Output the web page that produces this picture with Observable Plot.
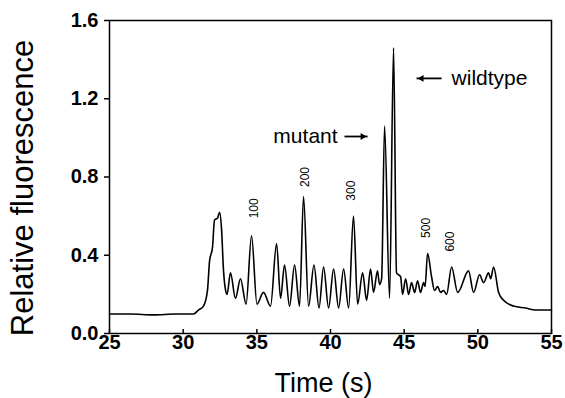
<!DOCTYPE html>
<html><head><meta charset="utf-8">
<script src="https://cdn.jsdelivr.net/npm/d3@7"></script>
<script src="https://cdn.jsdelivr.net/npm/@observablehq/plot@0.6"></script>
<style>body{margin:0;background:#fff} svg{display:block}</style>
</head><body><div id="chart"></div>
<script>
// Electropherogram trace (time in s, relative fluorescence)
const time = [25, 26.43, 28, 29.5, 30.7, 31.04, 31.38, 31.65, 31.79, 31.99, 32.13, 32.33, 32.47, 32.6, 32.74, 32.88, 32.98,
  33.21, 33.55, 33.89, 34.27, 34.64, 35.01, 35.45, 35.93, 36.34, 36.61, 36.88, 37.22, 37.56, 37.9, 38.17, 38.51,
  38.88, 39.22, 39.53, 39.87, 40.21, 40.55, 40.89, 41.23, 41.56, 41.84, 42.18, 42.45, 42.72, 42.92, 43.19, 43.33,
  43.47, 43.67, 44.01, 44.28, 44.48, 44.76, 44.89, 45.1, 45.3, 45.5, 45.71, 45.91, 46.11, 46.32, 46.42, 46.59,
  46.86, 47.06, 47.27, 47.47, 47.67, 47.88, 48.22, 48.63, 49.37, 49.71, 50.12, 50.39, 50.73, 50.87, 51.07, 51.41,
  51.75, 52.43, 53.24, 53.92, 55];
const fluorescence = [0.10, 0.10, 0.095, 0.10, 0.10, 0.12, 0.14, 0.22, 0.37, 0.44, 0.58, 0.59, 0.62, 0.54, 0.32, 0.22, 0.20,
  0.31, 0.18, 0.28, 0.15, 0.50, 0.15, 0.21, 0.14, 0.46, 0.18, 0.35, 0.14, 0.35, 0.14, 0.70, 0.14,
  0.35, 0.13, 0.34, 0.13, 0.33, 0.13, 0.33, 0.13, 0.60, 0.15, 0.31, 0.17, 0.33, 0.21, 0.32, 0.25,
  0.28, 1.06, 0.18, 1.46, 0.31, 0.29, 0.20, 0.28, 0.20, 0.26, 0.21, 0.27, 0.21, 0.26, 0.24, 0.41,
  0.29, 0.22, 0.24, 0.21, 0.22, 0.20, 0.34, 0.21, 0.32, 0.21, 0.30, 0.26, 0.31, 0.28, 0.34, 0.21,
  0.17, 0.14, 0.13, 0.12, 0.12];

const xTicks = [25, 30, 35, 40, 45, 50, 55];
const yTicks = [0, 0.4, 0.8, 1.2, 1.6];

// size-standard peak labels
const peakLabels = ["100", "200", "300", "500", "600"];
const peakLabelTime = [34.84, 38.31, 41.43, 46.52, 48.15];
const peakLabelValue = [0.64, 0.80, 0.73, 0.54, 0.47];

// callouts
const calloutText = ["mutant", "wildtype"];
const calloutTime = [40.48, 48.22];
const calloutValue = [1.007, 1.304];
const arrowFromTime = [40.95, 47.54];
const arrowToTime = [42.52, 45.84];
const arrowValue = [1.007, 1.304];

const xTitle = "Time (s)";
const yTitle = "Relative fluorescence";

const trace = time.map((t, i) => ({t, v: fluorescence[i]}));
const peaks = peakLabels.map((label, i) => ({label, t: peakLabelTime[i], v: peakLabelValue[i]}));
const callouts = calloutText.map((label, i) => ({label, t: calloutTime[i], v: calloutValue[i]}));
const arrows = arrowFromTime.map((t1, i) => ({t1, t2: arrowToTime[i], v: arrowValue[i]}));

const chart = Plot.plot({
  width: 565,
  height: 398,
  marginLeft: 109,
  marginRight: 14,
  marginTop: 20,
  marginBottom: 65,
  x: {domain: [25, 55]},
  y: {domain: [0, 1.6]},
  style: {fontFamily: "'Liberation Sans', Arial, sans-serif", color: "black", background: "white"},
  marks: [
    Plot.frame({stroke: "black", strokeWidth: 1.5}),
    Plot.axisY(yTicks, {anchor: "left", tickSize: 5, tickPadding: 6, tickFormat: d => d.toFixed(1), fontSize: 20, fontWeight: "bold", label: null, strokeWidth: 1.5}),
    Plot.axisX(xTicks, {anchor: "bottom", tickSize: 0, tickPadding: 1, fontSize: 20, fontWeight: "bold", label: null}),
    Plot.ruleX(xTicks, {x: d => d, y1: 0, y2: 0, insetTop: -4, insetBottom: -1, stroke: "black", strokeWidth: 1.5}),
    Plot.line(trace, {x: "t", y: "v", curve: "monotone-x", stroke: "black", strokeWidth: 1.6}),
    Plot.text(peaks, {x: "t", y: "v", text: "label", rotate: -90, fontSize: 12, textAnchor: "middle", lineAnchor: "middle"}),
    Plot.text(callouts.slice(0, 1), {x: "t", y: "v", text: "label", fontSize: 21, textAnchor: "end", lineAnchor: "middle"}),
    Plot.text(callouts.slice(1), {x: "t", y: "v", text: "label", fontSize: 21, textAnchor: "start", lineAnchor: "middle"}),
    Plot.link(arrows, {x1: "t1", x2: "t2", y1: "v", y2: "v", stroke: "black", strokeWidth: 1.8}),
    Plot.dot(arrows.slice(0, 1), {x: "t2", y: "v", symbol: "triangle2", r: 3.3, rotate: 90, dx: -5, fill: "black", stroke: "none"}),
    Plot.dot(arrows.slice(1), {x: "t2", y: "v", symbol: "triangle2", r: 3.3, rotate: -90, dx: 5, fill: "black", stroke: "none"}),
    Plot.text([yTitle], {frameAnchor: "left", dx: -86, dy: 11, rotate: -90, fontSize: 31, textAnchor: "middle", lineAnchor: "middle"}),
    Plot.text([xTitle], {frameAnchor: "bottom", dx: -7, dy: 50, fontSize: 27, textAnchor: "middle", lineAnchor: "middle"})
  ]
});
document.getElementById("chart").append(chart);
</script>
</body></html>
